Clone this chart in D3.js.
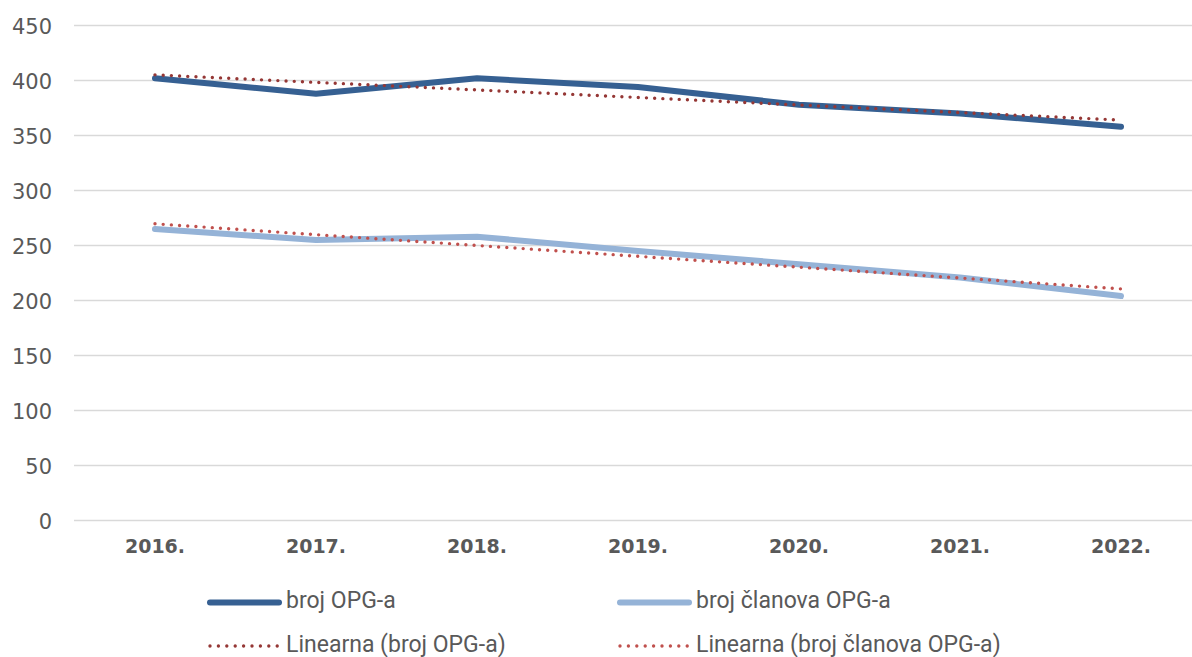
<!DOCTYPE html>
<html>
<head>
<meta charset="utf-8">
<script src="https://cdn.jsdelivr.net/npm/d3@7"></script>
<style>
  html, body { margin: 0; padding: 0; background: #fff; }
  svg { display: block; font-family: Roboto, "Open Sans", sans-serif; }
</style>
</head>
<body>
<svg id="chart" width="1192" height="657"></svg>
<script>
const years = ["2016.", "2017.", "2018.", "2019.", "2020.", "2021.", "2022."];
const brojOPG = [402, 388, 402, 394, 378, 370, 358];
const brojClanova = [265, 255, 258, 245, 233, 221, 204];
const yTicks = [0, 50, 100, 150, 200, 250, 300, 350, 400, 450];
const seriesNames = ["broj OPG-a", "broj članova OPG-a", "Linearna (broj OPG-a)", "Linearna (broj članova OPG-a)"];

const svg = d3.select("#chart");
const x = d3.scaleBand().domain(years).range([74.5, 1201.5]);
const y = d3.scaleLinear().domain([0, 450]).range([520.5, 25.5]);
const cx = d => x(d) + x.bandwidth() / 2;

// gridlines
svg.append("g").selectAll("line").data(yTicks).join("line")
  .attr("x1", 74).attr("x2", 1192)
  .attr("y1", d => y(d)).attr("y2", d => y(d))
  .attr("stroke", "#d9d9d9").attr("stroke-width", 1.5);

// y axis labels
const yAxis = d3.axisLeft(y).tickValues(yTicks).tickSize(0).tickPadding(0);
const gy = svg.append("g").attr("transform", "translate(52,0)").call(yAxis);
gy.select(".domain").remove();
gy.selectAll("text").attr("font-size", 21).attr("fill", "#595959")
  .attr("font-family", "'DejaVu Sans', sans-serif").attr("dy", "0.36em");

// x axis labels
const xAxis = d3.axisBottom(x).tickSize(0).tickPadding(0);
const gx = svg.append("g").attr("transform", "translate(0,553)").call(xAxis);
gx.select(".domain").remove();
gx.selectAll("text").attr("font-size", 19).attr("font-weight", "bold").attr("fill", "#595959")
  .attr("font-family", "'DejaVu Sans', sans-serif").attr("dy", 0);

// linear regression (Excel trendline)
function trend(vals) {
  const n = vals.length, xs = d3.range(n);
  const mx = d3.mean(xs), my = d3.mean(vals);
  const b = d3.sum(xs, i => (i - mx) * (vals[i] - my)) / d3.sum(xs, i => (i - mx) ** 2);
  const a = my - b * mx;
  return xs.map(i => a + b * i);
}

const line = d3.line().x((d, i) => cx(years[i])).y(d => y(d));

const cfg = [
  { vals: brojClanova, color: "#95b3d7", width: 6, dash: null },
  { vals: brojOPG, color: "#366092", width: 6, dash: null },
  { vals: trend(brojOPG), color: "#953735", width: 3.4, dash: "0 8.2" },
  { vals: trend(brojClanova), color: "#c0504d", width: 3.4, dash: "0 8.2" }
];

cfg.forEach(c => {
  svg.append("path").datum(c.vals)
    .attr("d", line)
    .attr("fill", "none")
    .attr("stroke", c.color)
    .attr("stroke-width", c.width)
    .attr("stroke-linecap", "round")
    .attr("stroke-linejoin", "round")
    .attr("stroke-dasharray", c.dash);
});

// legend
const legend = [
  { name: seriesNames[0], color: "#366092", width: 6, dash: null, lx: 210, ly: 602.5 },
  { name: seriesNames[1], color: "#95b3d7", width: 6, dash: null, lx: 620, ly: 602.5 },
  { name: seriesNames[2], color: "#953735", width: 3.4, dash: "0 8.4", lx: 210, ly: 646 },
  { name: seriesNames[3], color: "#c0504d", width: 3.4, dash: "0 8.4", lx: 620, ly: 646 }
];
const lg = svg.append("g").selectAll("g").data(legend).join("g");
lg.append("line")
  .attr("x1", d => d.lx).attr("x2", d => d.lx + 69)
  .attr("y1", d => d.ly).attr("y2", d => d.ly)
  .attr("stroke", d => d.color).attr("stroke-width", d => d.width)
  .attr("stroke-linecap", "round").attr("stroke-dasharray", d => d.dash);
lg.append("text")
  .attr("x", d => d.lx + 76).attr("y", d => d.ly + 5.5)
  .attr("font-size", 23).attr("fill", "#595959")
  .text(d => d.name);
</script>
</body>
</html>
